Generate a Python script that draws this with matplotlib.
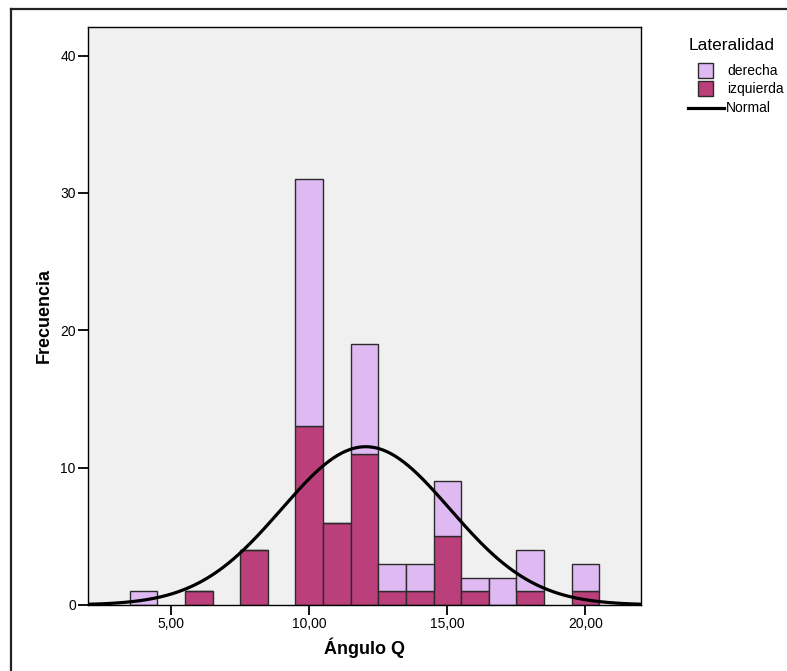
import numpy as np
import matplotlib.pyplot as plt
from matplotlib.patches import Rectangle
from matplotlib.lines import Line2D

plt.rcParams['font.family'] = ['Liberation Sans', 'DejaVu Sans']

# histogram bins (width 1, centred on integer angle values)
bin_centers = [4, 6, 8, 10, 11, 12, 13, 14, 15, 16, 17, 18, 20]
izquierda = [0, 1, 4, 13, 6, 11, 1, 1, 5, 1, 0, 1, 1]
derecha = [1, 0, 0, 18, 0, 8, 2, 2, 4, 1, 2, 3, 2]
xticks = [5, 10, 15, 20]
xtick_labels = ['5,00', '10,00', '15,00', '20,00']
yticks = [0, 10, 20, 30, 40]

col_der = '#dfb9f1'
col_izq = '#bb3f7b'
edge = '#2b2b2b'

W, H = 787, 671
fig = plt.figure(figsize=(W / 100, H / 100), dpi=100)
ax = fig.add_axes([0.1122, 0.0984, 0.7019, 0.8618])
ax.set_facecolor('#f0f0f0')

x = np.array(bin_centers, dtype=float)
izq = np.array(izquierda)
der = np.array(derecha)
ax.bar(x, izq, width=1.0, color=col_izq, edgecolor=edge, linewidth=1.0, zorder=2)
ax.bar(x, der, width=1.0, bottom=izq, color=col_der, edgecolor=edge, linewidth=1.0, zorder=2)

# normal curve scaled to total count
tot = izq + der
n = tot.sum()
mu = (x * tot).sum() / n
sd = np.sqrt(((x - mu) ** 2 * tot).sum() / (n - 1))
xs = np.linspace(2, 22, 400)
ys = n * 1.0 / (sd * np.sqrt(2 * np.pi)) * np.exp(-0.5 * ((xs - mu) / sd) ** 2)
ax.plot(xs, ys, color='black', linewidth=2.3, zorder=3)

ax.set_xlim(2, 22)
ax.set_ylim(0, 42.1)
ax.set_xticks(xticks)
ax.set_xticklabels(xtick_labels)
ax.set_yticks(yticks)
ax.tick_params(axis='both', direction='out', length=7, width=1.3, labelsize=10, colors='black', pad=2)
for s in ax.spines.values():
    s.set_linewidth(1.0)
    s.set_color('black')

ax.set_xlabel('Ángulo Q', fontsize=13, fontweight='bold', labelpad=4)
ax.set_ylabel('Frecuencia', fontsize=13, fontweight='bold', labelpad=5)


# legend drawn by hand, positions in pixels from the top-left corner
def fx(px):
    return px / W


def fy(py):
    return 1 - py / H


fig.text(fx(689), fy(45), 'Lateralidad', fontsize=12.5, va='center', ha='left')
for (top, col, lab) in [(63, col_der, 'derecha'), (81, col_izq, 'izquierda')]:
    fig.add_artist(Rectangle((fx(697.5), fy(top + 14.5)), 15 / W, 14.5 / H, facecolor=col,
                             edgecolor=edge, linewidth=1.0, transform=fig.transFigure))
    fig.text(fx(727), fy(top + 8), lab, fontsize=10, va='center', ha='left')
fig.add_artist(Line2D([fx(688), fx(724)], [fy(108), fy(108)], color='black', linewidth=2.3,
                      transform=fig.transFigure))
fig.text(fx(726), fy(108.5), 'Normal', fontsize=10, va='center', ha='left')

# outer frame (top and left edges)
fig.add_artist(Line2D([fx(11), fx(11)], [0, fy(9)], color='#222222', linewidth=1.6,
                      transform=fig.transFigure))
fig.add_artist(Line2D([fx(11), 1], [fy(9), fy(9)], color='#222222', linewidth=1.6,
                      transform=fig.transFigure))

fig.savefig('out.png', dpi=100)
